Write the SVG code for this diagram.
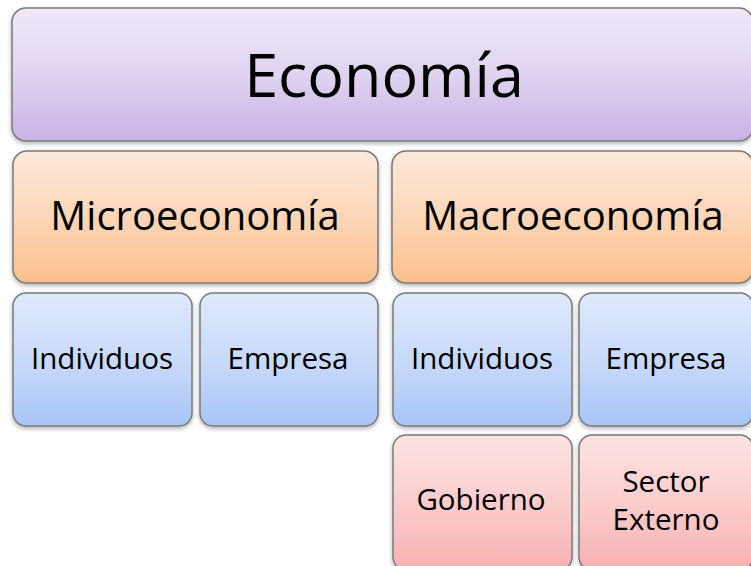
<svg xmlns="http://www.w3.org/2000/svg" width="751" height="566" viewBox="0 0 751 566">
<style>
.box{stroke:#7a7a7a;stroke-width:1.5;filter:url(#sh)}
text{font-family:"Open Sans","Liberation Sans",sans-serif;fill:#000;text-anchor:middle}
.t1{font-size:61px}
.t2{font-size:40px}
.t3{font-size:29.5px}
</style>
<defs>
<filter id="sh" x="-10%" y="-10%" width="120%" height="130%">
<feDropShadow dx="0" dy="2" stdDeviation="2" flood-color="#000" flood-opacity="0.3"/>
</filter>
<linearGradient id="gP" x1="0" y1="0" x2="0" y2="1"><stop offset="0" stop-color="#efe9f8"/><stop offset="0.5" stop-color="#e0d3f0"/><stop offset="1" stop-color="#c8b3e6"/></linearGradient>
<linearGradient id="gO" x1="0" y1="0" x2="0" y2="1"><stop offset="0" stop-color="#fde9db"/><stop offset="0.5" stop-color="#fcd6b7"/><stop offset="1" stop-color="#fbbf8c"/></linearGradient>
<linearGradient id="gB" x1="0" y1="0" x2="0" y2="1"><stop offset="0" stop-color="#dfe9fb"/><stop offset="0.5" stop-color="#c8dafa"/><stop offset="1" stop-color="#a8c5f6"/></linearGradient>
<linearGradient id="gR" x1="0" y1="0" x2="0" y2="1"><stop offset="0" stop-color="#fde3e3"/><stop offset="0.5" stop-color="#fbcdcd"/><stop offset="1" stop-color="#f7b0b0"/></linearGradient>
</defs>
<rect width="751" height="566" fill="#fff"/>
<g id="connectors"></g>
<g id="economia"><rect class="box" x="12" y="8" width="741" height="133" rx="14" fill="url(#gP)"/><text class="t1" x="384" y="97">Economía</text></g>
<g id="micro"><rect class="box" x="13" y="151" width="365" height="132" rx="14" fill="url(#gO)"/><text class="t2" x="195" y="230">Microeconomía</text></g>
<g id="macro"><rect class="box" x="392" y="151" width="361" height="132" rx="14" fill="url(#gO)"/><text class="t2" x="573" y="230">Macroeconomía</text></g>
<g id="micro-individuos"><rect class="box" x="13" y="293" width="179" height="133" rx="13" fill="url(#gB)"/><text class="t3" x="102" y="369">Individuos</text></g>
<g id="micro-empresa"><rect class="box" x="200" y="293" width="178" height="133" rx="13" fill="url(#gB)"/><text class="t3" x="288" y="369">Empresa</text></g>
<g id="macro-individuos"><rect class="box" x="393" y="293" width="179" height="133" rx="13" fill="url(#gB)"/><text class="t3" x="482" y="369">Individuos</text></g>
<g id="macro-empresa"><rect class="box" x="579" y="293" width="174" height="133" rx="13" fill="url(#gB)"/><text class="t3" x="666" y="369">Empresa</text></g>
<g id="gobierno"><rect class="box" x="393" y="435" width="179" height="135" rx="13" fill="url(#gR)"/><text class="t3" x="481" y="510">Gobierno</text></g>
<g id="sector-externo"><rect class="box" x="579" y="435" width="174" height="135" rx="13" fill="url(#gR)"/><text class="t3" x="666" y="492">Sector</text><text class="t3" x="666" y="530">Externo</text></g>
</svg>
